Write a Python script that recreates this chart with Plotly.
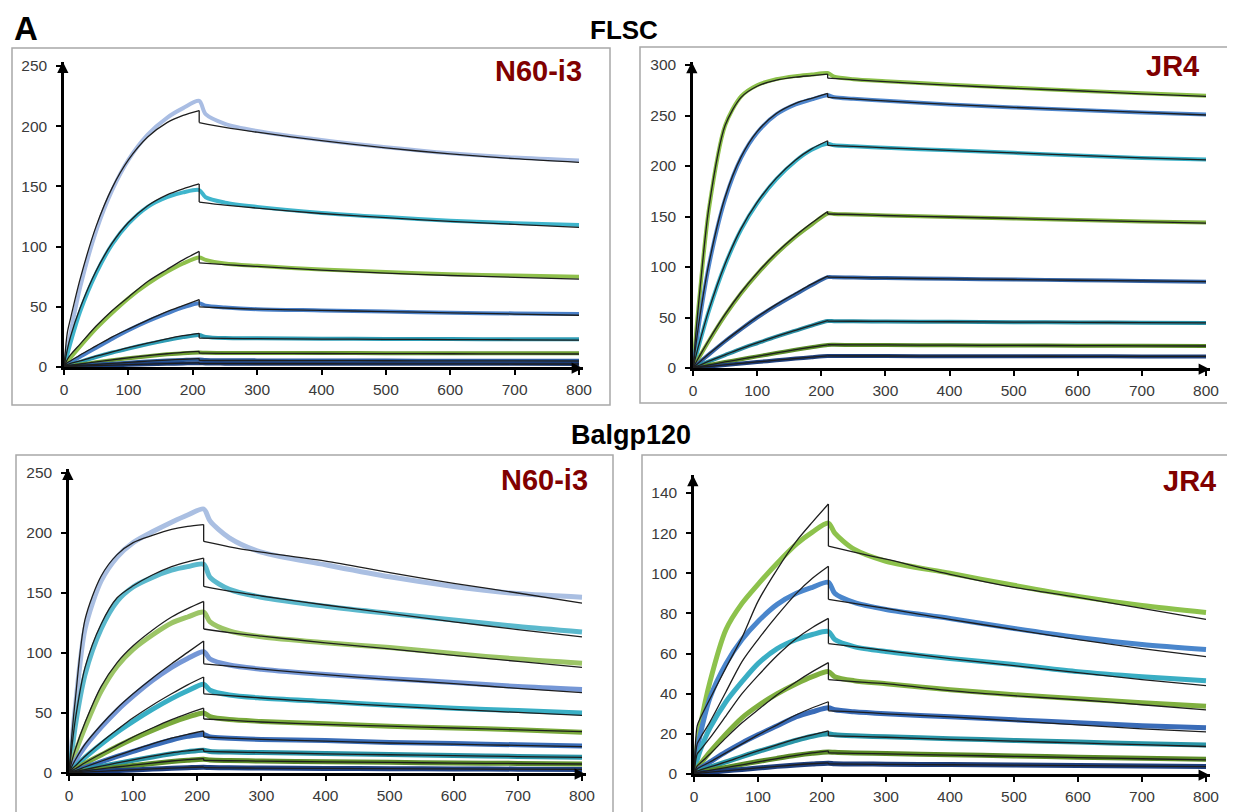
import plotly.graph_objects as go

W, H = 1235, 812          # page (browser window) size
OFF = 8                   # default body margin of the html page
FIG_W, FIG_H = W - OFF, H - OFF

# ---------------- time grids (s) ----------------
T_ASSOC = [0, 5, 10, 25, 50, 75, 100, 130, 160, 185, 210]
T_DISS_DATA = [220, 250, 300, 400, 500, 600, 700, 800]
T_DISS_FIT = [210, 250, 300, 400, 500, 600, 700, 800]

X_TICKS = [0, 100, 200, 300, 400, 500, 600, 700, 800]
Y_TICKS_250 = [0, 50, 100, 150, 200, 250]
Y_TICKS_300 = [0, 50, 100, 150, 200, 250, 300]
Y_TICKS_140 = [0, 20, 40, 60, 80, 100, 120, 140]

# ---------------- FLSC / N60-i3 ----------------
FLSC_N60_COLORS = ["#a9bde3", "#3fb5cc", "#8fc04c", "#4a80c8", "#2f9db5",
                   "#6e9e34", "#2c5c9c", "#1c3c78"]
FLSC_N60_DATA_ASSOC = [
    [0, 14, 28, 66, 113, 147, 172, 193, 207, 215, 221],
    [0, 10, 20, 46, 78, 102, 119, 133, 141, 145, 147],
    [0, 4, 7.5, 17, 32, 45, 57, 69, 79, 86, 91],
    [0, 2, 3.5, 8.5, 16, 23.5, 30.5, 38, 44.5, 49.5, 53],
    [0, 1, 2, 4.3, 8.3, 12, 15.3, 19, 22.3, 24.8, 26.5],
    [0, 0.5, 1, 2, 3.9, 5.7, 7.3, 9, 10.5, 11.5, 12],
    [0, 0.3, 0.5, 1.1, 2, 2.8, 3.6, 4.5, 5.3, 5.9, 6.3],
    [0, 0.2, 0.3, 0.6, 1, 1.4, 1.8, 2.2, 2.6, 2.9, 3.2],
]
FLSC_N60_DATA_DISS = [
    [210, 202, 196, 188.5, 182.5, 177.5, 174, 171.5],
    [141, 136.5, 133, 128, 124.5, 121.5, 119.5, 118],
    [89, 86, 84, 81, 79, 77, 76, 75],
    [51, 49.5, 48, 47, 46, 45, 44.5, 44],
    [25, 24, 23.8, 23.5, 23.3, 23.2, 23.1, 23],
    [11.8, 11.7, 11.6, 11.6, 11.5, 11.5, 11.5, 11.5],
    [5.8, 5.6, 5.5, 5.4, 5.3, 5.2, 5.2, 5.1],
    [2.9, 2.8, 2.8, 2.7, 2.7, 2.6, 2.6, 2.5],
]
FLSC_N60_FIT_ASSOC = [
    [0, 28, 40, 73, 117, 149, 172, 191, 203, 209, 213],
    [0, 14, 25, 49, 80, 103, 120, 134, 143, 148, 152],
    [0, 6, 10, 19, 34, 47, 58, 71, 81, 89, 96],
    [0, 3.5, 5, 10, 17.5, 25, 31.5, 39, 46, 51, 56],
    [0, 2, 3, 5, 9, 12.5, 16, 19.8, 23.4, 26, 28],
    [0, 1, 1.5, 2.5, 4.2, 6, 7.6, 9.4, 11, 12.2, 13],
    [0, 0.5, 0.8, 1.3, 2.2, 3, 3.9, 4.8, 5.7, 6.4, 7],
    [0, 0.2, 0.4, 0.7, 1.1, 1.5, 1.9, 2.4, 2.8, 3.2, 3.5],
]
FLSC_N60_FIT_DISS = [
    [203, 199, 195, 188, 182, 177, 173, 170],
    [137, 134.5, 132, 127.5, 124, 121, 118.5, 116],
    [86.5, 85, 83.5, 80.5, 78, 76, 74.5, 73],
    [50, 49, 48, 47, 46, 45, 44, 43],
    [24, 23.8, 23.5, 23.2, 23, 22.8, 22.6, 22.4],
    [11.5, 11.4, 11.3, 11.2, 11.1, 11, 10.9, 10.8],
    [5.5, 5.4, 5.4, 5.3, 5.2, 5.1, 5.1, 5],
    [2.8, 2.8, 2.7, 2.7, 2.6, 2.6, 2.5, 2.5],
]

# ---------------- FLSC / JR4 ----------------
FLSC_JR4_COLORS = ["#8cc04a", "#4f86cc", "#3ab0c6", "#80b040", "#3565a8",
                   "#2a8fa5", "#5d8f2a", "#1e3f7c"]
FLSC_JR4_DATA_ASSOC = [
    [0, 36, 70, 158, 240, 269, 280, 286, 289, 290.5, 292],
    [0, 23, 46, 102, 167, 208, 233, 251, 261, 266, 270],
    [0, 12, 24, 57, 102, 137, 163, 187, 205, 216, 222],
    [0, 5.5, 11, 27, 52, 74, 93, 113, 130, 142, 153],
    [0, 2.8, 5.5, 13.5, 26.5, 38.5, 50, 62, 73, 82, 90],
    [0, 1.2, 2.5, 6.5, 12.8, 19, 24.5, 31, 37, 42, 46.5],
    [0, 0.5, 1.1, 2.9, 5.9, 8.7, 11.5, 14.8, 18, 20.5, 22.8],
    [0, 0.3, 0.6, 1.5, 3, 4.5, 5.9, 7.6, 9.3, 10.7, 11.9],
]
FLSC_JR4_DATA_DISS = [
    [288.5, 286, 284, 280.5, 277.5, 274.5, 272, 269.5],
    [268, 266.5, 264.5, 261, 258, 255.5, 253, 251],
    [220.5, 219.5, 218, 215.5, 213, 210.5, 208, 206.5],
    [152.5, 152, 151, 149.5, 148, 146.5, 145, 144],
    [89.8, 89.5, 89, 88.3, 87.6, 86.9, 86.2, 85.5],
    [46.3, 46.2, 46, 45.7, 45.4, 45.1, 44.8, 44.6],
    [22.9, 22.8, 22.7, 22.5, 22.3, 22.1, 22, 21.8],
    [11.9, 11.9, 11.8, 11.7, 11.6, 11.6, 11.5, 11.5],
]
FLSC_JR4_FIT_ASSOC = [
    [0, 38, 72, 160, 240, 268, 279, 285, 288, 289.5, 291],
    [0, 25, 48, 104, 169, 209, 234, 252, 262, 267, 272],
    [0, 13, 25, 58, 103, 138, 164, 188, 206, 217, 225],
    [0, 6, 11.6, 28, 53, 75, 94, 114, 131, 143.5, 155],
    [0, 3, 5.8, 14, 27, 39, 50.5, 63, 74, 83, 91],
    [0, 1.4, 2.7, 6.8, 13.1, 19.2, 24.8, 31.3, 37.3, 42.3, 47],
    [0, 0.6, 1.2, 3, 6, 8.8, 11.6, 14.9, 18.1, 20.6, 23],
    [0, 0.3, 0.6, 1.5, 3.1, 4.6, 6, 7.7, 9.4, 10.8, 12],
]
FLSC_JR4_FIT_DISS = [
    [287, 285.5, 283.5, 280, 277, 274.5, 271.5, 269],
    [268, 266.5, 264.5, 261, 258, 255.5, 253, 250.5],
    [220.5, 219.5, 218, 215.5, 213, 210.5, 208, 206],
    [152.5, 152, 151, 149.5, 148, 146.5, 145, 143.5],
    [90, 89.5, 89, 88.3, 87.6, 86.9, 86.2, 85.5],
    [46.5, 46.3, 46.1, 45.8, 45.5, 45.2, 44.9, 44.6],
    [23, 22.9, 22.8, 22.6, 22.4, 22.2, 22, 21.8],
    [12, 11.9, 11.9, 11.8, 11.7, 11.6, 11.5, 11.5],
]

# ---------------- Balgp120 / N60-i3 ----------------
BAL_N60_COLORS = ["#aabfe2", "#5bb9cd", "#9cc566", "#7597d6", "#39afc5",
                  "#7aaa3c", "#3a6db8", "#2b95a8", "#5e8e2a", "#1f3f80"]
BAL_N60_DATA_ASSOC = [
    [0, 28, 55, 120, 160, 180, 192, 201, 209, 215, 220],
    [0, 20, 40, 82, 120, 143, 155, 163, 169, 172, 174],
    [0, 9, 17, 38, 68, 89, 103, 115, 125, 130, 134],
    [0, 5, 10, 22, 38, 52, 64, 77, 88, 95.5, 101],
    [0, 3, 5.5, 13, 24, 34, 43, 53, 62, 68.5, 74],
    [0, 1.8, 3.2, 8, 15, 22, 28.5, 35.5, 42, 46.5, 50],
    [0, 1, 1.8, 4.6, 9.3, 13.8, 18, 23, 27.5, 30.5, 32],
    [0, 0.6, 1.1, 2.7, 5.4, 8, 10.5, 13.4, 16, 17.8, 19],
    [0, 0.3, 0.6, 1.6, 3.2, 4.8, 6.2, 8, 9.6, 10.7, 11.5],
    [0, 0.2, 0.3, 0.7, 1.3, 2, 2.6, 3.3, 3.9, 4.4, 4.8],
]
BAL_N60_DATA_DISS = [
    [210, 196, 184, 173.5, 163.5, 155.5, 149.5, 146.5],
    [163, 153, 146.5, 139, 133, 127.5, 122, 117.5],
    [126, 118.5, 113.5, 108.5, 104.5, 99.5, 95, 91.5],
    [95, 90, 86.5, 82, 78.5, 75.5, 72, 69.5],
    [69, 65, 62.5, 59.5, 56.5, 54, 52, 50],
    [47, 44.5, 43, 41, 39, 37.5, 36, 34],
    [30, 29, 28, 27, 25.5, 24.5, 23.5, 22.5],
    [18, 17.5, 17, 16.2, 15.4, 14.6, 13.8, 13.2],
    [10.8, 10.4, 10, 9.4, 8.9, 8.4, 8, 7.6],
    [4.5, 4.3, 4.1, 3.8, 3.6, 3.4, 3.2, 3],
]
BAL_N60_FIT_ASSOC = [
    [0, 35, 62, 128, 164, 182, 192, 198, 203, 205.5, 207],
    [0, 24, 45, 88, 124, 146, 156, 165, 172, 176, 179],
    [0, 11, 20, 42, 72, 92, 106, 119, 130, 137, 143],
    [0, 6, 11, 24, 40, 54, 66, 79, 91, 100.5, 110],
    [0, 3.5, 6, 14, 25.5, 36, 46, 56.5, 66, 73.5, 80],
    [0, 2, 3.5, 8.5, 16, 23, 30, 37.5, 44.5, 49.5, 54],
    [0, 1.2, 2, 5, 9.8, 14.5, 19, 24.2, 29, 32.2, 35],
    [0, 0.7, 1.2, 2.9, 5.7, 8.4, 11, 14, 16.8, 18.5, 20],
    [0, 0.4, 0.7, 1.7, 3.4, 5, 6.5, 8.3, 10, 11.1, 12],
    [0, 0.2, 0.3, 0.7, 1.4, 2.1, 2.7, 3.4, 4.1, 4.6, 5],
]
BAL_N60_FIT_DISS = [
    [193, 188.5, 184, 176.5, 167, 158, 150, 141.5],
    [155.5, 151.5, 147.5, 140, 133, 126, 119.5, 113.5],
    [120, 117, 114, 108.5, 103.5, 98, 93, 88],
    [91, 89, 86.5, 82, 78, 74.5, 70.5, 67],
    [66, 64.5, 62.5, 59, 56, 53, 50.5, 48],
    [45, 44, 42.5, 40.5, 39, 37.5, 36, 34.5],
    [30, 29, 28, 26.5, 25, 24, 23, 22],
    [18, 17.5, 17, 16, 15.2, 14.5, 13.7, 13],
    [10.5, 10.2, 9.9, 9.3, 8.8, 8.3, 7.9, 7.5],
    [4.5, 4.3, 4.1, 3.8, 3.6, 3.4, 3.2, 3],
]

# ---------------- Balgp120 / JR4 ----------------
BAL_JR4_COLORS = ["#8dc24c", "#4a86cc", "#3aaec4", "#80b040", "#3a6cb8",
                  "#2a96a8", "#5c8c28", "#1e3e7c"]
BAL_JR4_DATA_ASSOC = [
    [0, 14, 24, 46, 72, 85, 94.5, 105, 114.5, 120.5, 125],
    [0, 12, 20, 38, 55, 67, 76, 84.5, 90, 93, 95.5],
    [0, 7, 12, 23, 36, 46, 55, 62.5, 67, 69.5, 71],
    [0, 3, 5, 11, 20, 28, 34, 40, 45, 48.5, 51],
    [0, 2, 3, 6, 11, 15.5, 19.5, 24, 28.5, 31, 33],
    [0, 1.2, 1.8, 3.4, 6, 8.7, 11.2, 14, 16.8, 18.8, 20],
    [0, 0.6, 0.9, 1.8, 3.3, 4.8, 6.2, 7.8, 9.3, 10.3, 11],
    [0, 0.3, 0.5, 0.9, 1.6, 2.3, 3, 3.8, 4.5, 5, 5.4],
]
BAL_JR4_DATA_DISS = [
    [120, 112, 106, 100, 94, 88.5, 84, 80.5],
    [90, 85.5, 82, 77.5, 72.5, 68, 64.5, 62],
    [67, 63.5, 61, 57.5, 54.5, 51, 48.5, 46.5],
    [48.5, 46.5, 45, 42, 39.5, 37.5, 35.5, 33.7],
    [32, 31, 30, 28.5, 27, 25.5, 24, 23],
    [19.5, 19, 18.5, 17.6, 16.7, 15.9, 15.1, 14.5],
    [10.8, 10.5, 10.2, 9.6, 9, 8.4, 7.8, 7.3],
    [5.1, 5, 4.9, 4.7, 4.5, 4.2, 4, 3.8],
]
BAL_JR4_FIT_ASSOC = [
    [0, 24, 28, 37.5, 53, 68, 86, 102, 116, 125.5, 134.5],
    [0, 15, 18, 26, 41, 56, 67, 79, 90, 97.5, 103.5],
    [0, 10, 12, 18, 29, 40, 49, 59, 67.5, 73, 77.5],
    [0, 4, 5.5, 10, 18, 25.5, 32, 39.5, 46, 51, 55.5],
    [0, 2.5, 3.5, 6, 10.5, 15, 19.5, 24.5, 29.5, 33, 36],
    [0, 1.5, 2, 3.5, 6, 8.8, 11.5, 14.5, 17.5, 19.5, 21.5],
    [0, 0.7, 1, 1.8, 3.2, 4.6, 6, 7.7, 9.3, 10.5, 11.5],
    [0, 0.3, 0.5, 0.9, 1.6, 2.3, 3, 3.8, 4.6, 5.1, 5.5],
]
BAL_JR4_FIT_DISS = [
    [113.5, 110.5, 107, 99.5, 93, 88, 82.5, 77],
    [87, 85, 82.5, 77, 72, 67, 62.5, 58.5],
    [65, 63.5, 61.5, 57.5, 54, 50.5, 47, 44],
    [47, 46, 45, 41.5, 39, 37, 34.5, 32],
    [31.5, 31, 30, 28.5, 26.5, 24.5, 22.5, 21],
    [19, 18.7, 18.3, 17.3, 16.4, 15.5, 14.6, 13.7],
    [10.5, 10.3, 10, 9.4, 8.8, 8.2, 7.6, 7],
    [5, 4.9, 4.8, 4.6, 4.4, 4.2, 3.9, 3.7],
]

# ---------------- panel geometry (pixels in the 1235x812 page) ----------------
PANELS = [
    dict(label="N60-i3", colors=FLSC_N60_COLORS,
         da=FLSC_N60_DATA_ASSOC, dd=FLSC_N60_DATA_DISS,
         fa=FLSC_N60_FIT_ASSOC, fd=FLSC_N60_FIT_DISS,
         yticks=Y_TICKS_250, ymax=253.5, lw=4,
         x0=64, x800=579, y0=367, yref_px=66,
         box=(12, 48, 610, 405), lab=(584, 71)),
    dict(label="JR4", colors=FLSC_JR4_COLORS,
         da=FLSC_JR4_DATA_ASSOC, dd=FLSC_JR4_DATA_DISS,
         fa=FLSC_JR4_FIT_ASSOC, fd=FLSC_JR4_FIT_DISS,
         yticks=Y_TICKS_300, ymax=303, lw=4,
         x0=693, x800=1206, y0=368, yref_px=65,
         box=(640, 47, 1233, 403), lab=(1201, 66)),
    dict(label="N60-i3", colors=BAL_N60_COLORS,
         da=BAL_N60_DATA_ASSOC, dd=BAL_N60_DATA_DISS,
         fa=BAL_N60_FIT_ASSOC, fd=BAL_N60_FIT_DISS,
         yticks=Y_TICKS_250, ymax=253.5, lw=5,
         x0=69, x800=582, y0=773, yref_px=473,
         box=(16, 455, 613, 818), lab=(590, 480)),
    dict(label="JR4", colors=BAL_JR4_COLORS,
         da=BAL_JR4_DATA_ASSOC, dd=BAL_JR4_DATA_DISS,
         fa=BAL_JR4_FIT_ASSOC, fd=BAL_JR4_FIT_DISS,
         yticks=Y_TICKS_140, ymax=149, lw=5,
         x0=694, x800=1206, y0=774, yref_px=493,
         box=(642, 455, 1240, 818), lab=(1218, 481)),
]
XMAX = 806


def fx(px):
    """page pixel column -> paper fraction"""
    return (px - OFF) / FIG_W


def fy(py):
    """page pixel row -> paper fraction"""
    return 1 - (py - OFF) / FIG_H


fig = go.Figure()
layout_axes = {}
shapes = []
annotations = []

FONT_FAMILY = "Liberation Sans, Arial, sans-serif"
TICKFONT = dict(family=FONT_FAMILY, size=15.5, color="#3a3a3a")

for i, p in enumerate(PANELS):
    n = i + 1
    xa = "x" if n == 1 else f"x{n}"
    ya = "y" if n == 1 else f"y{n}"
    xs = (p["x800"] - p["x0"]) / 800.0
    ys = (p["y0"] - p["yref_px"]) / p["yticks"][-1]
    xdom = [fx(p["x0"]), fx(p["x0"] + xs * XMAX)]
    ytop_px = p["y0"] - ys * p["ymax"]
    ydom = [fy(p["y0"]), fy(ytop_px)]

    common = dict(showline=True, linecolor="black", linewidth=2.5,
                  ticks="outside", ticklen=5, tickwidth=1.5, tickcolor="black",
                  showgrid=False, zeroline=False, tickfont=TICKFONT,
                  fixedrange=True, automargin=False)
    layout_axes["xaxis" if n == 1 else f"xaxis{n}"] = dict(
        domain=xdom, range=[0, XMAX], tickvals=X_TICKS,
        anchor=ya, ticklabelstandoff=2, **common)
    layout_axes["yaxis" if n == 1 else f"yaxis{n}"] = dict(
        domain=ydom, range=[0, p["ymax"]], tickvals=p["yticks"],
        anchor=xa, ticklabelstandoff=6, **common)

    # measured sensorgrams (thick coloured)
    for c, a, d in zip(p["colors"], p["da"], p["dd"]):
        fig.add_trace(go.Scatter(
            x=T_ASSOC + T_DISS_DATA, y=a + d, mode="lines",
            line=dict(color=c, width=p["lw"], shape="spline", smoothing=0.8),
            xaxis=xa, yaxis=ya, showlegend=False, hoverinfo="skip"))
    # global fit (thin black), association and dissociation phases
    for a, d in zip(p["fa"], p["fd"]):
        fig.add_trace(go.Scatter(
            x=T_ASSOC + [None] + T_DISS_FIT, y=a + [None] + d, mode="lines",
            line=dict(color="#1e1e1e", width=1.3, shape="spline", smoothing=0.8),
            connectgaps=False, xaxis=xa, yaxis=ya, showlegend=False,
            hoverinfo="skip"))
    # vertical drop of the fit at the end of injection
    dx, dy = [], []
    for a, d in zip(p["fa"], p["fd"]):
        dx += [T_ASSOC[-1], T_DISS_FIT[0], None]
        dy += [a[-1], d[0], None]
    fig.add_trace(go.Scatter(x=dx, y=dy, mode="lines",
                             line=dict(color="#1e1e1e", width=1.3),
                             xaxis=xa, yaxis=ya, showlegend=False,
                             hoverinfo="skip"))

    # panel frame
    bx0, by0, bx1, by1 = p["box"]
    shapes.append(dict(type="rect", xref="paper", yref="paper",
                       x0=fx(bx0), x1=fx(bx1), y0=fy(by1), y1=fy(by0),
                       line=dict(color="#a8a8a8", width=1.5), layer="below"))
    # arrow heads on the axes
    annotations.append(dict(xref="paper", yref="paper", x=xdom[0], y=ydom[1],
                            ax=0, ay=14, showarrow=True, arrowhead=2,
                            arrowsize=0.9, arrowwidth=2.5, arrowcolor="black",
                            xshift=-1.2, text=""))
    annotations.append(dict(xref="paper", yref="paper", x=xdom[1], y=ydom[0],
                            ax=-14, ay=0, showarrow=True, arrowhead=2,
                            arrowsize=0.9, arrowwidth=2.5, arrowcolor="black",
                            yshift=-1.2, text=""))
    # antibody label
    lx, ly = p["lab"]
    annotations.append(dict(xref="paper", yref="paper", x=fx(lx), y=fy(ly),
                            xanchor="right", yanchor="middle", showarrow=False,
                            text="<b>" + p["label"] + "</b>",
                            font=dict(family=FONT_FAMILY, size=29,
                                      color="#800000")))

TITLE_FONT = dict(family=FONT_FAMILY, color="black")
annotations.append(dict(xref="paper", yref="paper", x=fx(12), y=fy(28.5),
                        xanchor="left", yanchor="middle", showarrow=False,
                        text="<b>A</b>", font=dict(size=33, **TITLE_FONT)))
annotations.append(dict(xref="paper", yref="paper", x=fx(624), y=fy(30),
                        xanchor="center", yanchor="middle", showarrow=False,
                        text="<b>FLSC</b>", font=dict(size=26, **TITLE_FONT)))
annotations.append(dict(xref="paper", yref="paper", x=fx(631), y=fy(435),
                        xanchor="center", yanchor="middle", showarrow=False,
                        text="<b>Balgp120</b>", font=dict(size=27, **TITLE_FONT)))

fig.update_layout(width=FIG_W, height=FIG_H,
                  margin=dict(l=0, r=0, t=0, b=0, pad=0, autoexpand=False),
                  paper_bgcolor="white", plot_bgcolor="white",
                  shapes=shapes, annotations=annotations, showlegend=False,
                  **layout_axes)

fig.write_html("out.html", config={"displayModeBar": False})
